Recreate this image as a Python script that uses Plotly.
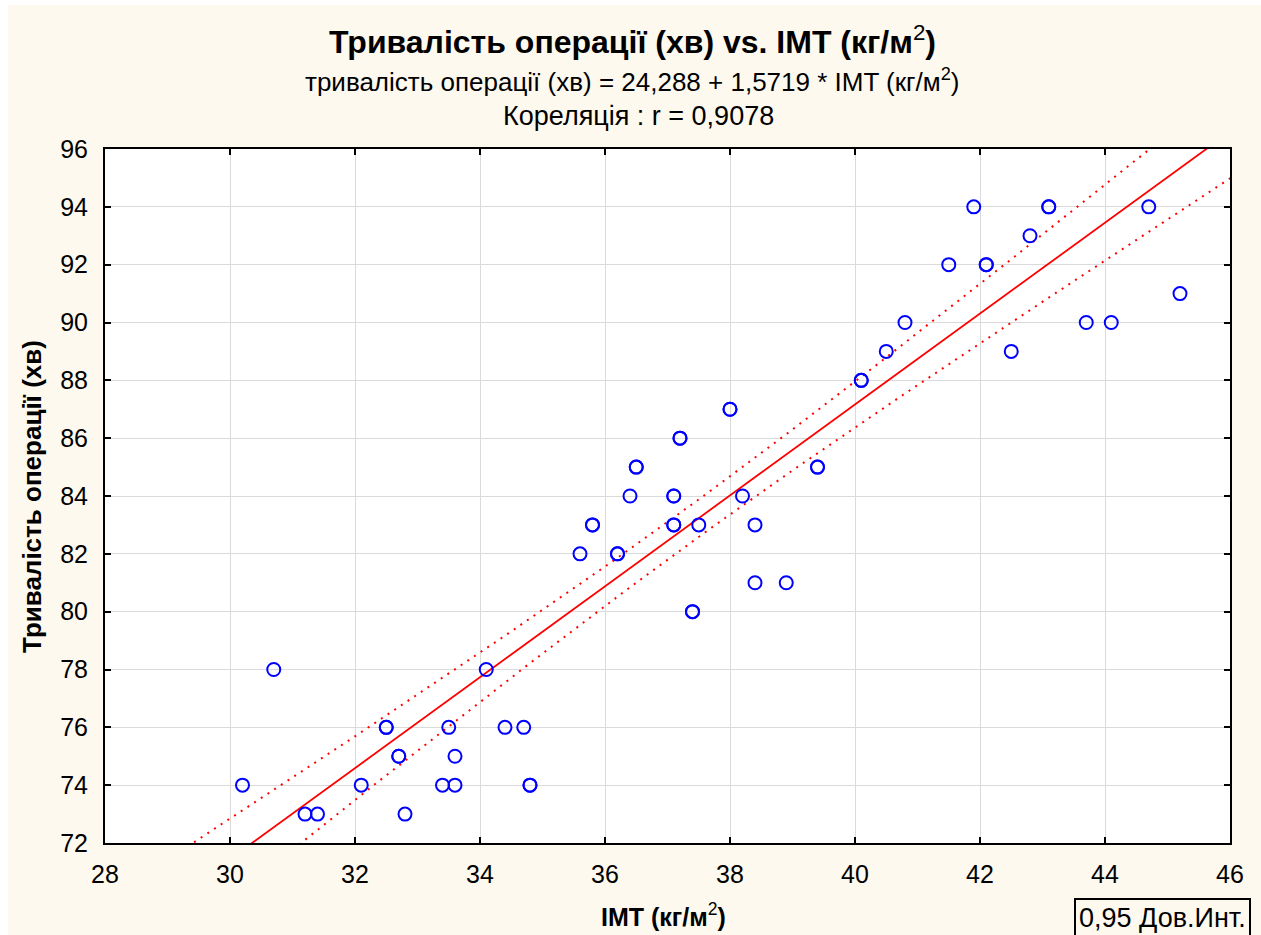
import numpy as np
import plotly.graph_objects as go

# Data (duplicates = overplotted points)
bmi = [30.2, 30.7, 31.2, 31.4, 32.1, 32.5, 32.5, 32.7, 32.7, 32.8, 33.4, 33.5, 33.6, 33.6, 34.1, 34.4, 34.7, 34.8, 34.8,
       35.6, 35.8, 35.8, 36.2, 36.2, 36.4, 36.5, 36.5, 37.1, 37.1, 37.1, 37.1, 37.2, 37.2, 37.4, 37.4, 37.5, 38.0, 38.0,
       38.2, 38.4, 38.4, 38.9, 39.4, 39.4,
       40.1, 40.1, 40.5, 40.8, 41.5, 41.9, 42.1, 42.1, 42.5, 42.8, 43.1, 43.1, 43.7, 44.1, 44.7, 45.2]
duration = [74, 78, 73, 73, 74, 76, 76, 75, 75, 73, 74, 76, 75, 74, 78, 76, 76, 74, 74,
            82, 83, 83, 82, 82, 84, 85, 85, 84, 84, 83, 83, 86, 86, 80, 80, 83, 87, 87,
            84, 83, 81, 81, 85, 85,
            88, 88, 89, 90, 92, 94, 92, 92, 89, 93, 94, 94, 90, 90, 94, 91]

intercept = 24.288
slope = 1.5719
x_ticks = [28, 30, 32, 34, 36, 38, 40, 42, 44, 46]
y_ticks = [72, 74, 76, 78, 80, 82, 84, 86, 88, 90, 92, 94, 96]

X = np.array(bmi, dtype=float)
Y = np.array(duration, dtype=float)
n = len(X)
resid = Y - (intercept + slope * X)
s = np.sqrt(np.sum(resid ** 2) / (n - 2))
xm = X.mean()
sxx = np.sum((X - xm) ** 2)
t = 2.0
xs = np.linspace(27.5, 46.5, 200)
fit = intercept + slope * xs
half = t * s * np.sqrt(1.0 / n + (xs - xm) ** 2 / sxx)

font = "Arial, Liberation Sans, sans-serif"
cream = "#FEF9EF"

fig = go.Figure()
fig.add_trace(go.Scatter(x=xs, y=fit, mode="lines", line=dict(color="#FF0000", width=1.8), hoverinfo="skip"))
fig.add_trace(go.Scatter(x=xs, y=fit + half, mode="lines", line=dict(color="#FF0000", width=2, dash="2px,6px"), hoverinfo="skip"))
fig.add_trace(go.Scatter(x=xs, y=fit - half, mode="lines", line=dict(color="#FF0000", width=2, dash="2px,6px"), hoverinfo="skip"))
fig.add_trace(go.Scatter(x=bmi, y=duration, mode="markers",
                         marker=dict(symbol="circle-open", size=13, color="#0000FF", line=dict(width=2, color="#0000FF"))))

axis_common = dict(showline=True, linecolor="black", linewidth=2, mirror="ticks",
                   ticks="inside", ticklen=6, tickwidth=2, tickcolor="black",
                   showgrid=True, gridcolor="#DADADA", gridwidth=1, zeroline=False,
                   tickfont=dict(family=font, size=25, color="black"))

fig.update_xaxes(range=[28, 46], tickvals=x_ticks, ticklabelstandoff=8, **axis_common)
fig.update_yaxes(range=[72, 96], tickvals=y_ticks, ticklabelstandoff=10, **axis_common)

xc = (632 - 105) / 1125
ann = [
    dict(text="<b>Тривалість операції (хв) vs. IMT (кг/м</b><sup>2</sup><b>)</b>", x=xc, y=1.157,
         font=dict(size=32, family=font, color="black")),
    dict(text="тривалість операції (хв) = 24,288 + 1,5719 * IMT (кг/м<sup>2</sup>)", x=xc, y=1.098,
         font=dict(size=26, family=font, color="black")),
    dict(text="Кореляція : r = 0,9078", x=(638 - 105) / 1125, y=1.048,
         font=dict(size=27, family=font, color="black")),
    dict(text="<b>IMT (кг/м</b><sup>2</sup><b>)</b>", x=0.496, y=-0.1037,
         font=dict(size=25, family=font, color="black")),
    dict(text="<b>Тривалість операції (хв)</b>", x=-0.0649, y=0.5, textangle=-90,
         font=dict(size=26, family=font, color="black")),
    dict(text="0,95 Дов.Инт.", x=(1162 - 105) / 1125, y=(843 - 918) / 694,
         font=dict(size=27, family=font, color="black"),
         bordercolor="black", borderwidth=2, borderpad=3, bgcolor=cream),
]
for a in ann:
    a.update(xref="paper", yref="paper", showarrow=False, xanchor="center", yanchor="middle")
    fig.add_annotation(**a)

# white strips at left and top edges of the picture
fig.add_shape(type="rect", xref="paper", yref="paper", x0=-105 / 1125, x1=(8 - 105) / 1125,
              y0=-92 / 694, y1=(843 + 0) / 694 + 149 / 694, fillcolor="white", line_width=0, layer="below")
fig.add_shape(type="rect", xref="paper", yref="paper", x0=-105 / 1125, x1=1 + 31 / 1125,
              y0=(843 - 5) / 694, y1=843 / 694, fillcolor="white", line_width=0, layer="below")

fig.update_layout(width=1261, height=935, margin=dict(l=105, r=31, t=149, b=92),
                  paper_bgcolor=cream, plot_bgcolor="white", showlegend=False,
                  font=dict(family=font, color="black"))

fig.write_html("out.html")
